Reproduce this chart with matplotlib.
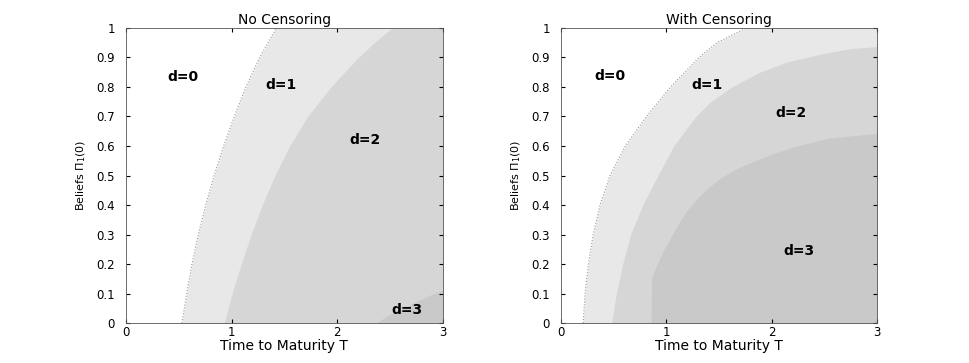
import matplotlib.pyplot as plt
import numpy as np

# |====| data section
# region boundaries given as T (x) for a list of beliefs (y)
# --> No Censoring
nc_y01 = [0.0, 0.1, 0.2, 0.3, 0.4, 0.5, 0.6, 0.7, 0.8, 0.9, 1.0]
nc_x01 = [0.53, 0.575, 0.625, 0.685, 0.755, 0.835, 0.925, 1.025, 1.135, 1.265, 1.425]
nc_y12 = [0.0, 0.1, 0.2, 0.3, 0.4, 0.5, 0.6, 0.7, 0.8, 0.9, 0.95, 1.0]
nc_x12 = [0.93, 1.005, 1.09, 1.185, 1.29, 1.41, 1.55, 1.72, 1.94, 2.2, 2.35, 2.52]
nc_y23 = [0.0, 0.03, 0.061, 0.09, 0.112]
nc_x23 = [2.37, 2.5, 2.68, 2.85, 3.0]

# --> With Censoring
wc_y01 = [0.0, 0.1, 0.2, 0.3, 0.4, 0.5, 0.6, 0.7, 0.8, 0.9, 0.95, 1.0]
wc_x01 = [0.21, 0.228, 0.26, 0.305, 0.37, 0.465, 0.61, 0.81, 1.04, 1.31, 1.48, 1.757]
wc_y12 = [0.0, 0.1, 0.2, 0.3, 0.4, 0.5, 0.6, 0.7, 0.75, 0.8, 0.852, 0.885, 0.914, 0.93, 0.937]
wc_x12 = [0.48, 0.525, 0.585, 0.66, 0.775, 0.92, 1.07, 1.28, 1.42, 1.62, 1.90, 2.15, 2.5, 2.75, 3.0]
wc_y23 = [0.0, 0.15, 0.19, 0.24, 0.293, 0.34, 0.383, 0.425, 0.462, 0.495, 0.525, 0.547, 0.575, 0.598, 0.626, 0.643]
wc_x23 = [0.855, 0.86, 0.9, 0.965, 1.045, 1.12, 1.2, 1.3, 1.41, 1.53, 1.68, 1.82, 2.02, 2.22, 2.53, 3.0]

labels = ["d=0", "d=1", "d=2", "d=3"]
nc_lab_x = [0.54, 1.47, 2.26, 2.66]
nc_lab_y = [0.833, 0.805, 0.62, 0.044]
wc_lab_x = [0.46, 1.39, 2.18, 2.26]
wc_lab_y = [0.838, 0.807, 0.711, 0.245]

colors = ["#e8e8e8", "#d6d6d6", "#c9c9c9"]

# |====| plot section
plt.rcParams['font.family'] = ['DejaVu Sans']
fig = plt.figure(figsize=(9.69, 3.63), dpi=100)
ax1 = fig.add_axes([0.130, 0.110, 0.327, 0.813])
ax2 = fig.add_axes([0.579, 0.110, 0.326, 0.813])

panels = [
    (ax1, "No Censoring", [(nc_y01, nc_x01), (nc_y12, nc_x12), (nc_y23, nc_x23)], nc_lab_x, nc_lab_y),
    (ax2, "With Censoring", [(wc_y01, wc_x01), (wc_y12, wc_x12), (wc_y23, wc_x23)], wc_lab_x, wc_lab_y),
]

for ax, title, bounds, lx, ly in panels:
    for (yb, xb), c in zip(bounds, colors):
        ax.fill_betweenx(yb, xb, 3, color=c, lw=0)
    y01, x01 = bounds[0]
    ax.plot(x01, y01, ':', color='#999999', lw=0.8)
    for t, x, y in zip(labels, lx, ly):
        ax.text(x, y, t, ha='center', va='center', fontsize=10, fontweight='bold')
    ax.set_xlim(0, 3)
    ax.set_ylim(0, 1)
    ax.set_xticks([0, 1, 2, 3])
    ax.set_yticks(np.arange(0, 1.01, 0.1))
    ax.set_yticklabels(["0", "0.1", "0.2", "0.3", "0.4", "0.5", "0.6", "0.7", "0.8", "0.9", "1"])
    ax.tick_params(direction='in', top=True, right=True, length=3, labelsize=8.5)
    ax.tick_params(axis='y', pad=8)
    ax.tick_params(axis='x', pad=2)
    ax.set_title(title, fontsize=10, pad=3)
    ax.set_xlabel("Time to Maturity T", fontsize=10, labelpad=0)
    ax.set_ylabel(r"Beliefs $\Pi_1(0)$", fontsize=8, labelpad=6,
                  family=['Liberation Sans Narrow', 'DejaVu Sans'])
    for s in ax.spines.values():
        s.set_linewidth(0.6)
        s.set_color('#555555')

fig.savefig("out.png", dpi=100)
